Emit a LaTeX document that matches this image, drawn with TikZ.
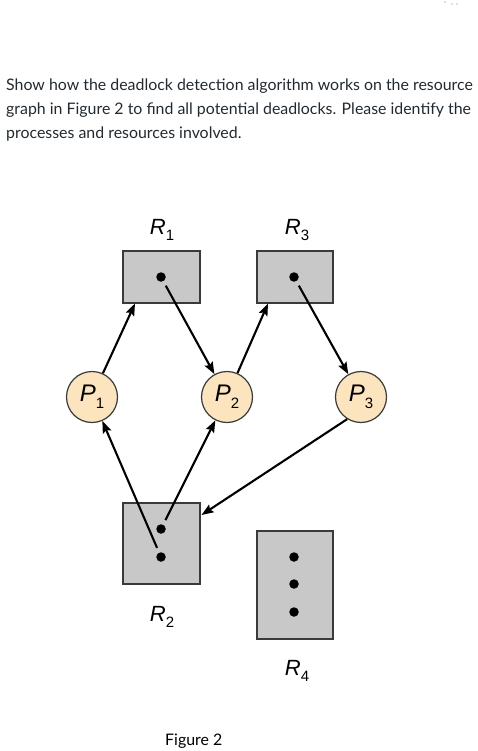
\documentclass[tikz,border=0pt]{standalone}
\usepackage{fontspec}
\setmainfont{Lato}
\newfontfamily\helv{Liberation Sans}
\usetikzlibrary{arrows.meta}
\definecolor{peach}{HTML}{FBE4BE}
\definecolor{boxgray}{HTML}{C8C8C8}
\definecolor{edgegray}{HTML}{3A3A3A}
\definecolor{txt}{HTML}{222A30}
\tikzset{
  res/.style={draw=edgegray, line width=1.2pt, fill=boxgray, inner sep=0pt},
  proc/.style={circle, draw=edgegray, line width=1.2pt, fill=peach, minimum size=51pt, inner sep=0pt, font=\helv\fontsize{24}{24}\selectfont\itshape},
  inst/.style={circle, fill=black, minimum size=9.5pt, inner sep=0pt},
  rlabel/.style={font=\helv\fontsize{22}{22}\selectfont\itshape},
  arr/.style={line width=2.1pt, -{Stealth[length=12pt,width=9pt,inset=2pt]}},
  para/.style={anchor=base west, inner sep=0pt, text=txt, font=\fontsize{15.9}{18}\selectfont},
  noise/.style={circle, fill=blue!25!gray!40, minimum size=1.6pt, inner sep=0pt}
}
\newcommand{\subs}[1]{\raisebox{-0.3em}{\fontsize{15}{15}\selectfont\upshape #1}}
\begin{document}
\begin{tikzpicture}[x=1pt,y=-1pt]
\useasboundingbox (0,0) rectangle (478,751);
% faint dots top right
\node[noise] (n1) at (445,2) {};
\node[noise] (n2) at (452,4) {};
\node[noise] (n3) at (457,4) {};
% question text
\node[para] (t1) at (6,91) {Show how the deadlock detection algorithm works on the resource};
\node[para] (t2) at (6,115) {graph in Figure 2 to find all potential deadlocks. Please identify the};
\node[para] (t3) at (6,139) {processes and resources involved.};
% resources
\node[res, minimum width=77pt, minimum height=52pt] (R1) at (161.5,277) {};
\node[res, minimum width=76pt, minimum height=52pt] (R3) at (295,277) {};
\node[res, minimum width=77pt, minimum height=81pt] (R2) at (161.5,543.5) {};
\node[res, minimum width=76pt, minimum height=108pt] (R4) at (295,585) {};
% instances
\node[inst] (d1) at (161,277) {};
\node[inst] (d3) at (294,277) {};
\node[inst] (d2a) at (161,529) {};
\node[inst] (d2b) at (161,557) {};
\node[inst] (d4a) at (294,557) {};
\node[inst] (d4b) at (294,584) {};
\node[inst] (d4c) at (294,612) {};
% processes
\node[proc] (P1) at (92,397) {P\subs{1}};
\node[proc] (P2) at (227,397) {P\subs{2}};
\node[proc] (P3) at (361,397) {P\subs{3}};
% labels
\node[rlabel] (L1) at (162,230) {R\subs{1}};
\node[rlabel] (L3) at (297,230) {R\subs{3}};
\node[rlabel] (L2) at (162,617) {R\subs{2}};
\node[rlabel] (L4) at (297,671) {R\subs{4}};
\node[para, text=black] (fig) at (165,745) {Figure 2};
% attachment points
\coordinate (r1in) at (135,303.5);
\coordinate (r3in) at (268,303.5);
\coordinate (r2in) at (201.5,515);
% edges
\draw[arr] (P1) -- (r1in);
\draw[arr, shorten <=5pt] (d1) -- (P2);
\draw[arr] (P2) -- (r3in);
\draw[arr, shorten <=5pt] (d3) -- (P3);
\draw[arr, shorten <=5pt] (d2a) -- (P2);
\draw[arr, shorten <=5pt] (d2b) -- (P1);
\draw[arr] (P3.238) -- (r2in);
\end{tikzpicture}
\end{document}
